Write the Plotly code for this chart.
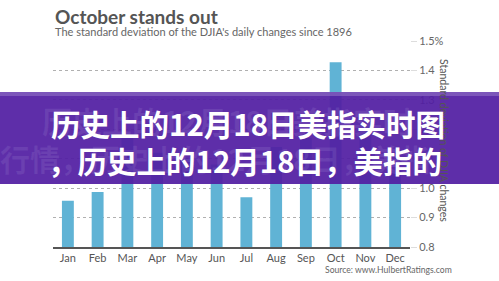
import plotly.graph_objects as go

months = ["Jan", "Feb", "Mar", "Apr", "May", "Jun", "Jul", "Aug", "Sep", "Oct", "Nov", "Dec"]
std_dev = [0.957, 0.987, 1.18, 1.12, 1.10, 1.08, 0.969, 1.14, 1.17, 1.428, 1.22, 1.06]
tick_vals = [0.8, 0.9, 1.0, 1.1, 1.2, 1.3, 1.4, 1.5]
tick_text = ["0.8", "0.9", "1.0", "1.1", "1.2", "1.3", "1.4", "1.5%"]

title = "October stands out"
subtitle = "The standard deviation of the DJIA's daily changes since 1896"
axis_title = "Standard deviation of DJIA changes"
source = "Source: www.HulbertRatings.com"
banner1 = "历史上的12月18日美指实时图"
banner2 = "，历史上的12月18日，美指的"
ghost1 = "历史上的12月18日美指实时"
ghost2 = "行情，历史上的12月18日，美指"

fig = go.Figure(go.Bar(x=months, y=std_dev, marker_color="#60b3d5", marker_line_width=0))

fig.update_layout(
    width=499, height=281,
    margin=dict(l=53, r=89, t=41, b=34),
    paper_bgcolor="white", plot_bgcolor="white",
    bargap=0.6, showlegend=False,
    font=dict(family="Lato, 'Noto Sans', sans-serif", color="#555"),
)
fig.update_xaxes(showline=True, linecolor="#555", linewidth=1.5, ticks="",
                 tickfont=dict(size=11, color="#555"), showgrid=False, fixedrange=True)
fig.update_yaxes(side="right", range=[0.8, 1.5], tickvals=tick_vals, ticktext=tick_text,
                 showgrid=True, gridcolor="#b0b0b0", griddash="dot", gridwidth=1,
                 zeroline=False, ticks="outside", ticklen=6, tickcolor="#ddd",
                 tickfont=dict(size=11, color="#666"))

def px(x):
    return (x - 53) / 357

def py(y):
    return (247 - y) / 206

fig.add_annotation(text="<b>" + title + "</b>", xref="paper", yref="paper",
                   x=0, y=py(16), xanchor="left", yanchor="middle",
                   showarrow=False, font=dict(size=19, color="#555"))
fig.add_annotation(text=subtitle, xref="paper", yref="paper",
                   x=0, y=py(31), xanchor="left", yanchor="middle",
                   showarrow=False, font=dict(size=11, color="#666"))
fig.add_annotation(text=axis_title, xref="paper", yref="paper",
                   x=px(444), y=py(140), xanchor="center", yanchor="middle",
                   textangle=90, showarrow=False, font=dict(size=10.5, color="#555"))
fig.add_annotation(text=source, xref="paper", yref="paper",
                   x=px(323), y=py(270), xanchor="left", yanchor="middle",
                   showarrow=False, font=dict(size=8.6, color="#666"))

# purple banner
fig.add_shape(type="rect", xref="paper", yref="y", x0=-0.3, x1=1.4, y0=1.014, y1=1.327,
              fillcolor="rgba(82,30,162,0.93)", line_width=0, layer="above")
fig.add_shape(type="rect", xref="paper", yref="y", x0=-0.3, x1=1.4, y0=1.313, y1=1.327,
              fillcolor="rgba(150,120,200,0.55)", line_width=0, layer="above")

cjk = "'Noto Sans CJK SC', sans-serif"
ghost_color = "rgba(200,190,235,0.12)"
fig.add_annotation(text="<b>" + ghost1 + "</b>", xref="paper", yref="paper",
                   x=px(40), y=py(120), xanchor="left", yanchor="middle",
                   showarrow=False, font=dict(size=30, color=ghost_color, family=cjk))
fig.add_annotation(text="<b>" + ghost2 + "</b>", xref="paper", yref="paper",
                   x=px(-2), y=py(158), xanchor="left", yanchor="middle",
                   showarrow=False, font=dict(size=30, color=ghost_color, family=cjk))
fig.add_annotation(text="<b>" + banner1 + "</b>", xref="paper", yref="paper",
                   x=px(49), y=py(123), xanchor="left", yanchor="middle",
                   showarrow=False, font=dict(size=29.5, color="white", family=cjk))
fig.add_annotation(text="<b>" + banner2 + "</b>", xref="paper", yref="paper",
                   x=px(46), y=py(160), xanchor="left", yanchor="middle",
                   showarrow=False, font=dict(size=29.5, color="white", family=cjk))

fig.write_html("out.html")
